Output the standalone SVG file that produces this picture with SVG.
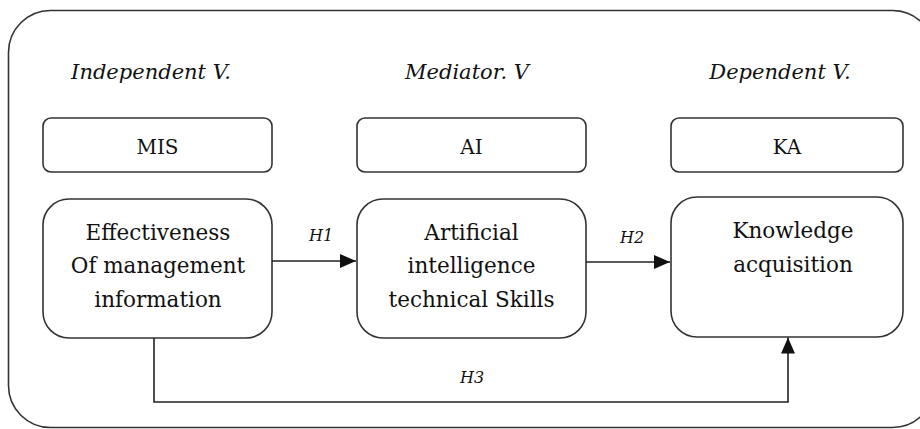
<svg xmlns="http://www.w3.org/2000/svg" width="920" height="429" viewBox="0 0 920 429">
<style>
.box{fill:#fff;stroke:#333;stroke-width:1.6}
.frame{fill:none;stroke:#333;stroke-width:1.6}
text{font-family:'DejaVu Serif',serif;fill:#111;text-anchor:middle}
.hdr{font-style:italic;font-size:21px}
.lbl{font-size:20px}
.txt{font-size:21.5px}
.h{font-style:italic;font-size:16px}
.conn{fill:none;stroke:#222;stroke-width:1.6}
</style>
<defs>
<marker id="arr" viewBox="0 0 16 14" refX="16" refY="7" markerWidth="16" markerHeight="14" markerUnits="userSpaceOnUse" orient="auto">
<path d="M0,0 L16,7 L0,14 Z" fill="#111"/>
</marker>
</defs>
<rect class="frame" x="8.5" y="10.5" width="926" height="417" rx="42"/>
<g id="headers">
<text class="hdr" x="151" y="79">Independent V.</text>
<text class="hdr" x="467" y="79">Mediator. V</text>
<text class="hdr" x="780" y="79">Dependent V.</text>
</g>
<g id="mis">
<rect class="box" x="43" y="118" width="229" height="54" rx="8"/>
<text class="lbl" x="157.5" y="154">MIS</text>
</g>
<g id="ai">
<rect class="box" x="357" y="118" width="229" height="54" rx="8"/>
<text class="lbl" x="471.5" y="154">AI</text>
</g>
<g id="ka">
<rect class="box" x="671" y="118" width="232" height="54" rx="8"/>
<text class="lbl" x="787" y="154">KA</text>
</g>
<g id="effectiveness">
<rect class="box" x="43" y="199" width="229" height="139" rx="26"/>
<text class="txt" x="158" y="240">Effectiveness</text>
<text class="txt" x="158" y="273">Of management</text>
<text class="txt" x="158" y="307">information</text>
</g>
<g id="ai-skills">
<rect class="box" x="357" y="199" width="229" height="139" rx="26"/>
<text class="txt" x="471.5" y="240">Artificial</text>
<text class="txt" x="471.5" y="273">intelligence</text>
<text class="txt" x="471.5" y="307">technical Skills</text>
</g>
<g id="knowledge">
<rect class="box" x="671" y="197" width="232" height="140" rx="26"/>
<text class="txt" x="793" y="238">Knowledge</text>
<text class="txt" x="793" y="272">acquisition</text>
</g>
<g id="connectors">
<path class="conn" d="M272,261 H356" marker-end="url(#arr)"/>
<text class="h" x="321" y="241">H1</text>
<path class="conn" d="M586,262 H670" marker-end="url(#arr)"/>
<text class="h" x="632" y="243">H2</text>
<path class="conn" d="M154,338 V402 H788 V337.5" marker-end="url(#arr)"/>
<text class="h" x="472" y="383">H3</text>
</g>
</svg>
